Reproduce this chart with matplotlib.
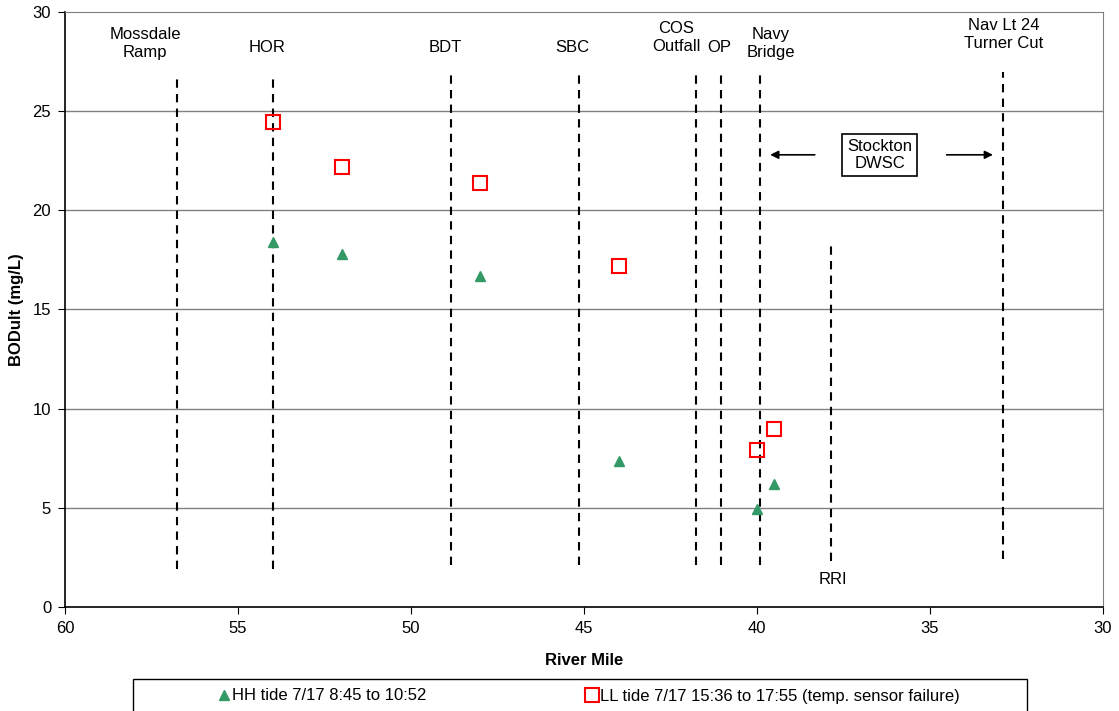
import numpy as np
import matplotlib
matplotlib.use("Agg")
import matplotlib.pyplot as plt
from matplotlib.patches import Rectangle

plt.rcParams['font.family'] = ['Liberation Sans', 'DejaVu Sans']

# data
hh_mile = [54.0, 52.0, 48.0, 44.0, 40.0, 39.5]
hh_bod = [18.4, 17.8, 16.7, 7.35, 4.95, 6.2]
ll_mile = [54.0, 52.0, 48.0, 44.0, 40.0, 39.5]
ll_bod = [24.45, 22.2, 21.4, 17.2, 7.9, 8.95]

# station markers (river mile, line top, line bottom)
st_mile = [56.75, 54.0, 48.85, 45.15, 41.75, 41.05, 39.9, 37.85, 32.9]
st_top = [26.6, 26.6, 26.8, 26.8, 26.8, 26.8, 26.8, 18.2, 27.0]
st_bot = [1.9, 1.9, 2.1, 2.1, 2.1, 2.1, 2.1, 2.3, 2.4]

lab_text = ['Mossdale\nRamp', 'HOR', 'BDT', 'SBC', 'COS\nOutfall', 'OP',
            'Navy\nBridge', 'Nav Lt 24\nTurner Cut', 'RRI']
lab_x = [57.68, 54.15, 49.0, 45.35, 42.33, 41.1, 39.6, 32.88, 37.8]
lab_y = [28.4, 28.2, 28.2, 28.2, 28.7, 28.2, 28.4, 28.85, 1.4]

fig = plt.figure(figsize=(11.19, 7.11), dpi=100)
ax = fig.add_axes([0.0581, 0.1463, 0.9276, 0.8368])

ax.set_xlim(60, 30)
ax.set_ylim(0, 30)
ax.set_xticks(np.arange(60, 29, -5))
ax.set_yticks(np.arange(0, 31, 5))
ax.tick_params(direction='out', length=5, labelsize=12, pad=5)
for y in [5, 10, 15, 20, 25]:
    ax.axhline(y, color='#808080', lw=1, zorder=1)
ax.spines['top'].set_color('#808080')
ax.spines['right'].set_color('#808080')
ax.spines['left'].set_linewidth(1.2)
ax.spines['bottom'].set_linewidth(1.2)

for m, t, b in zip(st_mile, st_top, st_bot):
    ax.plot([m, m], [b, t], color='black', lw=1.5, ls=(0, (4, 3)), zorder=2)

for s, x, y in zip(lab_text, lab_x, lab_y):
    ax.text(x, y, s, ha='center', va='center', fontsize=12, linespacing=1.25)

# Stockton DWSC box and arrows
ax.text(36.45, 22.8, 'Stockton\nDWSC', ha='center', va='center', fontsize=12,
        linespacing=1.2,
        bbox=dict(boxstyle='square,pad=0.3', fc='white', ec='black', lw=1.2))
ax.annotate('', xy=(39.7, 22.8), xytext=(38.25, 22.8),
            arrowprops=dict(arrowstyle='-|>', color='black', lw=1.2, mutation_scale=12))
ax.annotate('', xy=(33.1, 22.8), xytext=(34.6, 22.8),
            arrowprops=dict(arrowstyle='-|>', color='black', lw=1.2, mutation_scale=12))

ax.plot(hh_mile, hh_bod, ls='none', marker='^', ms=7, color='#339966',
        label='HH tide 7/17 8:45 to 10:52', zorder=4)
ax.plot(ll_mile, ll_bod, ls='none', marker='s', ms=10, mfc='none', mec='#ff0000',
        mew=1.5, label='LL tide 7/17 15:36 to 17:55 (temp. sensor failure)', zorder=4)

ax.set_xlabel('River Mile', fontsize=12, fontweight='bold', labelpad=12)
ax.set_ylabel('BODult (mg/L)', fontsize=12, fontweight='bold', labelpad=6)

# legend box at the bottom
fig.patches.append(Rectangle((133 / 1119, -0.02), 894 / 1119, 1 - 679 / 711 + 0.02,
                             transform=fig.transFigure, fc='white', ec='black', lw=1))
fig.legend(loc='center left', bbox_to_anchor=(209 / 1119, 1 - 696 / 711), ncol=2,
           frameon=False, fontsize=12, handlelength=0.8, handletextpad=0.1,
           columnspacing=9.5, borderpad=0, numpoints=1)

fig.savefig('out.png', dpi=100)
